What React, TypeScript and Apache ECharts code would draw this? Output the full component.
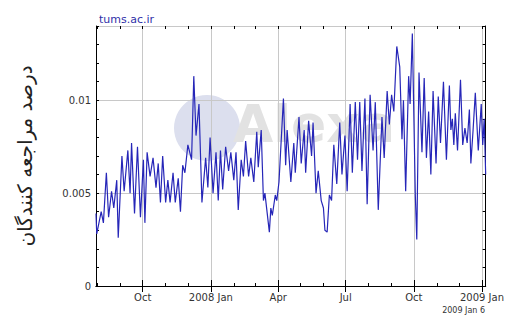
import React, { useEffect, useRef } from "react";
import * as echarts from "echarts";

// ---- data ----
const startDateUTC = Date.UTC(2007, 6, 30); // first day shown: 2007 Jul 30
const dayCount = 527; // through 2009 Jan 6

// days since start date of each turning point of the traffic line
const dayOffsets = [
  0, 1, 7, 10, 14, 17, 21, 24, 28, 30,
  35, 38, 43, 46, 48, 52, 56, 60, 64, 66,
  69, 73, 77, 81, 84, 87, 90, 94, 97, 100,
  104, 107, 111, 114, 117, 120, 124, 129, 132, 135,
  139, 143, 148, 151, 154, 158, 162, 165, 168, 171,
  175, 179, 182, 186, 189, 192, 196, 199, 202, 206,
  209, 213, 217, 219, 223, 226, 228, 234, 236, 238,
  242, 244, 247, 253, 256, 258, 263, 267, 269, 274,
  277, 281, 283, 287, 291, 293, 297, 300, 304, 307,
  309, 312, 315, 318, 321, 325, 329, 332, 336, 339,
  343, 346, 350, 353, 356, 359, 363, 366, 370, 374,
  377, 381, 386, 389, 393, 396, 399, 402, 406, 410,
  413, 415, 418, 422, 424, 427, 431, 433, 436, 440,
  443, 446, 449, 452, 455, 459, 462, 465, 469, 473,
  477, 479, 481, 483, 485, 488, 492, 495, 498, 501,
  504, 506, 509, 512, 516, 520, 522, 524, 526,
];

// share of visitors
const shareValues = [
  0.0039, 0.0028, 0.004, 0.0034, 0.0061, 0.0037, 0.0051, 0.0042, 0.0057, 0.0026,
  0.007, 0.0051, 0.0073, 0.005, 0.0077, 0.0039, 0.0075, 0.0037, 0.0068, 0.0034,
  0.0072, 0.0059, 0.0069, 0.0053, 0.0066, 0.0045, 0.007, 0.0045, 0.0057, 0.0045,
  0.0061, 0.0045, 0.0058, 0.004, 0.0065, 0.0061, 0.0076, 0.0068, 0.0113, 0.0081,
  0.0098, 0.0045, 0.0069, 0.0053, 0.008, 0.005, 0.0072, 0.0046, 0.0073, 0.0052,
  0.0075, 0.0062, 0.0072, 0.0057, 0.0072, 0.0041, 0.0068, 0.0059, 0.0078, 0.0059,
  0.0069, 0.0056, 0.0083, 0.0064, 0.0084, 0.0046, 0.005, 0.0029, 0.0042, 0.0038,
  0.0049, 0.0046, 0.0056, 0.0101, 0.0065, 0.0084, 0.0056, 0.0077, 0.0061, 0.0091,
  0.0066, 0.0084, 0.0061, 0.0089, 0.007, 0.0088, 0.005, 0.0062, 0.0046, 0.0042,
  0.003, 0.0029, 0.0049, 0.0046, 0.0076, 0.0055, 0.0088, 0.006, 0.0081, 0.0051,
  0.0098, 0.0061, 0.0099, 0.0068, 0.0099, 0.0062, 0.0101, 0.0044, 0.0103, 0.0073,
  0.0099, 0.0041, 0.0091, 0.0069, 0.0105, 0.0087, 0.0103, 0.0094, 0.0129, 0.0118,
  0.0079, 0.01, 0.0051, 0.0113, 0.0098, 0.0136, 0.0049, 0.0025, 0.0115, 0.0072,
  0.0112, 0.0069, 0.0094, 0.006, 0.0105, 0.0066, 0.0102, 0.0077, 0.011, 0.0068,
  0.0108, 0.0084, 0.009, 0.0076, 0.0093, 0.0073, 0.0111, 0.0076, 0.0085, 0.0077,
  0.0095, 0.0066, 0.0084, 0.0104, 0.0073, 0.0098, 0.0076, 0.009, 0.006,
];

const monthNames = ["Jan", "Feb", "Mar", "Apr", "May", "Jun", "Jul", "Aug", "Sep", "Oct", "Nov", "Dec"];
const quarterMonths = [1, 4, 7, 10];
const yLabelValues = [0, 0.005, 0.01];
const yLabelTexts = ["0", "0.005", "0.01"];
const siteName = "tums.ac.ir";
const yAxisTitle = "درصد مراجعه کنندگان";
const dateStamp = "2009 Jan 6";

const categories = Array.from({ length: dayCount }, (_, i) =>
  new Date(startDateUTC + i * 86400000).toISOString().slice(0, 10)
);

const isMonthStart = (_i: number, v: string) => v.slice(8, 10) === "01";
const isQuarterStart = (_i: number, v: string) =>
  v.slice(8, 10) === "01" && quarterMonths.includes(+v.slice(5, 7));

const xLabel = (v: string) => {
  const m = +v.slice(5, 7);
  return m === 1 ? `${v.slice(0, 4)} Jan` : monthNames[m - 1];
};

const yLabel = (v: number) => {
  const k = yLabelValues.findIndex((t) => Math.abs(t - v) < 1e-9);
  return k >= 0 ? yLabelTexts[k] : "";
};

const FONT = "DejaVu Sans";
const GRID_COLOR = "#c8c8c8";

export default function App() {
  const ref = useRef<HTMLDivElement>(null);

  useEffect(() => {
    if (!ref.current) return;
    const chart = echarts.init(ref.current, undefined, { renderer: "svg" });

    const baseX = {
      type: "category" as const,
      data: categories,
      boundaryGap: false,
    };
    const baseY = { type: "value" as const, min: 0, max: 0.014 };

    chart.setOption({
      animation: false,
      backgroundColor: "#ffffff",
      title: {
        text: siteName,
        left: 94,
        top: 9,
        textStyle: { fontSize: 11, fontWeight: "normal", color: "#3030a8", fontFamily: FONT },
      },
      grid: { left: 96, right: 19, top: 26, bottom: 30 },
      graphic: [
        {
          type: "circle",
          shape: { cx: 207, cy: 128, r: 33 },
          style: { fill: "#dcdfee" },
          silent: true,
        },
        {
          type: "text",
          left: 233,
          top: 98,
          style: { text: "Alexa", fill: "#e2e2e2", fontSize: 52, fontWeight: "bold", fontFamily: FONT },
          silent: true,
        },
        {
          type: "text",
          right: 22,
          top: 306,
          style: { text: dateStamp, fill: "#333", fontSize: 8, fontFamily: FONT, textAlign: "right" },
        },
      ],
      xAxis: [
        {
          ...baseX,
          position: "bottom",
          axisLine: { show: true, lineStyle: { color: "#000", width: 1 } },
          axisTick: { show: true, inside: true, length: 6, interval: isQuarterStart, lineStyle: { color: "#000" } },
          axisLabel: {
            interval: isQuarterStart,
            formatter: xLabel,
            color: "#333",
            fontSize: 10,
            fontFamily: FONT,
            margin: 6,
          },
          splitLine: { show: true, interval: isQuarterStart, lineStyle: { color: GRID_COLOR, width: 1 } },
        },
        {
          ...baseX,
          position: "bottom",
          axisLine: { show: false },
          axisTick: { show: true, inside: true, length: 3, interval: isMonthStart, lineStyle: { color: "#000" } },
          axisLabel: { show: false },
          splitLine: { show: false },
        },
        {
          ...baseX,
          position: "top",
          axisLine: { show: true, lineStyle: { color: "#000", width: 1 } },
          axisTick: { show: true, inside: true, length: 6, interval: isQuarterStart, lineStyle: { color: "#000" } },
          axisLabel: { show: false },
          splitLine: { show: false },
        },
        {
          ...baseX,
          position: "top",
          axisLine: { show: false },
          axisTick: { show: true, inside: true, length: 3, interval: isMonthStart, lineStyle: { color: "#000" } },
          axisLabel: { show: false },
          splitLine: { show: false },
        },
      ],
      yAxis: [
        {
          ...baseY,
          interval: 0.001,
          position: "left",
          axisLine: { show: true, lineStyle: { color: "#000", width: 1 } },
          axisTick: { show: true, inside: true, length: 3, lineStyle: { color: "#000" } },
          axisLabel: { formatter: yLabel, color: "#333", fontSize: 10, fontFamily: FONT, margin: 5 },
          splitLine: { show: false },
          name: yAxisTitle,
          nameLocation: "middle",
          nameGap: 61,
          nameTextStyle: { fontSize: 20, color: "#222", fontFamily: FONT },
        },
        {
          ...baseY,
          interval: 0.001,
          position: "right",
          axisLine: { show: true, lineStyle: { color: "#000", width: 1 } },
          axisTick: { show: true, inside: true, length: 3, lineStyle: { color: "#000" } },
          axisLabel: { show: false },
          splitLine: { show: false },
        },
        {
          ...baseY,
          interval: 0.005,
          position: "left",
          axisLine: { show: false },
          axisTick: { show: false },
          axisLabel: { show: false },
          splitLine: { show: true, lineStyle: { color: GRID_COLOR, width: 1 } },
        },
      ],
      series: [
        {
          type: "line",
          xAxisIndex: 0,
          yAxisIndex: 0,
          data: dayOffsets.map((d, i) => [categories[d], shareValues[i]]),
          symbol: "none",
          showSymbol: false,
          lineStyle: { color: "#2626b8", width: 1.2 },
        },
      ],
    });

    return () => chart.dispose();
  }, []);

  return (
    <div
      ref={ref}
      style={{ position: "fixed", left: 0, top: 0, width: 507, height: 316, background: "#fff" }}
    />
  );
}
